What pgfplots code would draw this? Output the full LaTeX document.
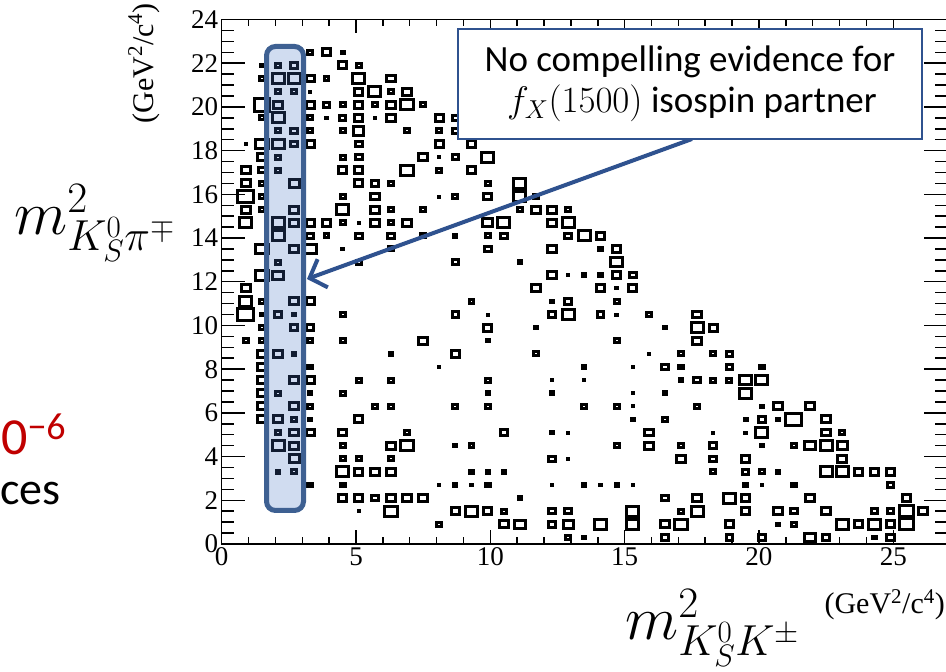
\RequirePackage{fix-cm}
\documentclass[border=0pt]{standalone}
\usepackage{fontspec}
\setmainfont{Liberation Serif}
\newfontfamily\calibri{Carlito}
\usepackage{pgfplots}
\pgfplotsset{compat=1.18}
\usepackage{pgfplotstable}
\usetikzlibrary{arrows.meta}
\definecolor{boxblue}{RGB}{47,82,143}
\definecolor{hlborder}{RGB}{62,96,146}
\definecolor{hlfill}{RGB}{68,114,196}
\definecolor{slidered}{RGB}{192,0,0}
\pgfdeclareplotmark{rbox}{%
  \pgfsetlinewidth{3pt}%
  \pgfpathrectangle{\pgfqpoint{-1.24\pgfplotmarksize}{-\pgfplotmarksize}}{\pgfqpoint{2.48\pgfplotmarksize}{2\pgfplotmarksize}}%
  \pgfusepathqfillstroke}

\pgfplotstableread{
x y c
3.3 22.5 2
3.9 22.5 3
4.5 22.5 1.5
1.5 21.9 1.5
2.1 21.9 2
2.7 21.9 2.5
4.5 21.9 3
5.1 21.9 2
1.5 21.3 2
2.1 21.3 4
2.7 21.3 4
3.3 21.3 3
3.9 21.3 2
5.1 21.3 4
6.3 21.3 3
2.1 20.7 2
2.7 20.7 2
3.3 20.7 1
5.1 20.7 3
5.7 20.7 4
6.3 20.7 2
6.9 20.7 3
1.5 20.1 5
2.1 20.1 3
3.3 20.1 3
3.9 20.1 2.5
4.5 20.1 2
5.1 20.1 3
5.7 20.1 2
6.3 20.1 3
6.9 20.1 4
7.5 20.1 2
1.5 19.5 2
2.1 19.5 4
3.3 19.5 2
3.9 19.5 1
4.5 19.5 2.5
5.1 19.5 3
5.7 19.5 1
6.3 19.5 3
8.1 19.5 3
8.7 19.5 2.5
2.1 18.9 2
2.7 18.9 2.5
3.3 18.9 2
4.5 18.9 2
5.1 18.9 3.5
6.9 18.9 2
8.1 18.9 2
8.7 18.9 2.5
0.9 18.3 1
1.5 18.3 4
2.1 18.3 4
2.7 18.3 2.5
3.3 18.3 3
5.1 18.3 2.5
8.1 18.3 3
9.3 18.3 3
1.5 17.7 3
2.1 17.7 2
4.5 17.7 2
5.1 17.7 2.5
7.5 17.7 3
8.1 17.7 1
8.7 17.7 2.5
9.9 17.7 4
0.9 17.1 3
1.5 17.1 2.5
2.1 17.1 2
4.5 17.1 3
5.1 17.1 3
6.9 17.1 4
8.1 17.1 2
9.3 17.1 3
0.9 16.5 3
1.5 16.5 2
2.7 16.5 3.5
5.1 16.5 3
5.7 16.5 2.5
6.3 16.5 2
9.9 16.5 2
11.1 16.5 4
0.9 15.9 5
1.5 15.9 2
4.5 15.9 2
5.7 15.9 3
8.1 15.9 1
8.7 15.9 2
9.9 15.9 3
11.1 15.9 4
11.7 15.9 2
0.9 15.3 3
1.5 15.3 2
2.7 15.3 3
4.5 15.3 4
5.7 15.3 3
6.3 15.3 2
7.5 15.3 2
11.1 15.3 2
11.7 15.3 3
12.3 15.3 3
12.9 15.3 2
0.9 14.7 4
2.1 14.7 4
2.7 14.7 3
3.3 14.7 3
3.9 14.7 3
4.5 14.7 2
5.1 14.7 1
5.7 14.7 3
6.3 14.7 2
6.9 14.7 3
9.9 14.7 3.5
10.5 14.7 4
12.3 14.7 3
12.9 14.7 4
2.1 14.1 4
3.3 14.1 2.5
3.9 14.1 2
5.1 14.1 2.5
6.3 14.1 2.5
7.5 14.1 2
8.7 14.1 1.5
9.9 14.1 2
10.5 14.1 2.5
12.9 14.1 2.5
13.5 14.1 4
14.1 14.1 3
1.5 13.5 4
2.7 13.5 3
3.3 13.5 4
4.5 13.5 1
6.3 13.5 2
9.9 13.5 2.5
12.3 13.5 3
14.1 13.5 1.5
14.7 13.5 3
2.1 12.9 2
5.1 12.9 2
8.7 12.9 2.5
11.1 12.9 1.5
14.7 12.9 4
1.5 12.3 4
2.1 12.3 3.5
12.3 12.3 3
12.9 12.3 1
13.5 12.3 1.5
14.1 12.3 1.5
14.7 12.3 3
15.3 12.3 2.5
0.9 11.7 3
11.7 11.7 3
14.1 11.7 3
14.7 11.7 1
15.3 11.7 3
0.9 11.1 4
1.5 11.1 2
2.7 11.1 3
3.3 11.1 3
9.3 11.1 2
12.3 11.1 1.5
12.9 11.1 2.5
14.7 11.1 2
0.9 10.5 5
1.5 10.5 1.5
2.1 10.5 2.5
2.7 10.5 1.5
4.5 10.5 2
8.7 10.5 2.5
9.9 10.5 1
12.3 10.5 2.5
12.9 10.5 4
14.1 10.5 2.5
14.7 10.5 1
15.9 10.5 2
17.7 10.5 3
1.5 9.9 2
2.7 9.9 2.5
3.3 9.9 2.5
9.9 9.9 3
11.7 9.9 1.5
16.5 9.9 1.5
17.7 9.9 4
18.3 9.9 3
0.9 9.3 2
1.5 9.3 2
3.3 9.3 2
4.5 9.3 2
7.5 9.3 3
9.9 9.3 1.5
14.7 9.3 2
17.7 9.3 3
1.5 8.7 3
2.1 8.7 3
2.7 8.7 1.5
6.3 8.7 1.5
8.7 8.7 3
11.7 8.7 2
15.9 8.7 1
17.1 8.7 2
18.3 8.7 2
18.9 8.7 2.5
1.5 8.1 3
3.3 8.1 2
8.1 8.1 1
13.5 8.1 1.5
15.3 8.1 1
16.5 8.1 2.5
17.1 8.1 2
18.9 8.1 2.5
20.1 8.1 2
1.5 7.5 3
2.7 7.5 3
3.3 7.5 3
5.1 7.5 2
6.3 7.5 2
9.9 7.5 2
12.3 7.5 1
13.5 7.5 1
17.1 7.5 1.5
17.7 7.5 2.5
18.3 7.5 2
18.9 7.5 2
19.5 7.5 4
20.1 7.5 4
1.5 6.9 3
2.1 6.9 2
3.3 6.9 1.5
4.5 6.9 2
9.9 6.9 1.5
12.3 6.9 1.5
15.3 6.9 1
16.5 6.9 1.5
19.5 6.9 4
1.5 6.3 3
2.7 6.3 3
3.3 6.3 2
5.7 6.3 2
6.3 6.3 2
8.7 6.3 2
9.9 6.3 2
13.5 6.3 2
14.7 6.3 2
15.3 6.3 1
17.7 6.3 2
20.1 6.3 1.5
20.7 6.3 3
21.9 6.3 3
1.5 5.7 3
2.1 5.7 3
2.7 5.7 2
3.3 5.7 1.5
5.1 5.7 3
15.3 5.7 1.5
16.5 5.7 2
19.5 5.7 1.5
20.1 5.7 2.5
20.7 5.7 1.5
21.3 5.7 5
22.5 5.7 3
2.1 5.1 2
2.7 5.1 3
3.3 5.1 3
4.5 5.1 3
6.9 5.1 2
10.5 5.1 2.5
12.3 5.1 1.5
12.9 5.1 1
15.9 5.1 3
18.3 5.1 1
19.5 5.1 1
20.1 5.1 4
22.5 5.1 3
23.1 5.1 2
2.1 4.5 4
2.7 4.5 3
4.5 4.5 2
6.3 4.5 3
6.9 4.5 4
8.7 4.5 1.5
9.3 4.5 2
14.7 4.5 2
15.9 4.5 3
17.1 4.5 2
18.3 4.5 2.5
20.1 4.5 1.5
21.3 4.5 2
21.9 4.5 3.5
22.5 4.5 4
23.1 4.5 3.5
2.7 3.9 3.5
4.5 3.9 2
5.1 3.9 2
6.3 3.9 2
12.3 3.9 2.5
12.9 3.9 1
17.1 3.9 3
18.3 3.9 2.5
19.5 3.9 3
23.1 3.9 3
2.1 3.3 1.5
2.7 3.3 2
4.5 3.3 4
5.1 3.3 3
5.7 3.3 3
6.3 3.3 3
9.3 3.3 1.5
9.9 3.3 1.5
10.5 3.3 1.5
18.3 3.3 2
19.5 3.3 2.5
20.1 3.3 2
20.7 3.3 1.5
22.5 3.3 4
23.1 3.3 4
23.7 3.3 3
24.3 3.3 3
24.9 3.3 3
3.3 2.7 2
4.5 2.7 2
8.1 2.7 1
8.7 2.7 1.5
9.3 2.7 1
9.9 2.7 2
12.3 2.7 1
13.5 2.7 1.5
14.1 2.7 1
14.7 2.7 1.5
15.3 2.7 1
19.5 2.7 2
20.1 2.7 1
21.3 2.7 2
24.9 2.7 2.5
4.5 2.1 3
5.1 2.1 3
5.7 2.1 2.5
6.3 2.1 3
6.9 2.1 3
7.5 2.1 3
11.1 2.1 1.5
16.5 2.1 2.5
17.7 2.1 3
18.9 2.1 4
19.5 2.1 3
21.9 2.1 3
25.5 2.1 3
5.1 1.5 1
6.3 1.5 4
8.7 1.5 3
9.3 1.5 4
9.9 1.5 3
10.5 1.5 2
12.3 1.5 2.5
12.9 1.5 2.5
15.3 1.5 4
17.1 1.5 2
17.7 1.5 4
19.5 1.5 3
20.7 1.5 3
21.3 1.5 2.5
22.5 1.5 3
24.3 1.5 2.5
24.9 1.5 2.5
25.5 1.5 4.5
26.1 1.5 3
8.1 0.9 2
10.5 0.9 3
11.1 0.9 3.5
12.3 0.9 2.5
12.9 0.9 3.5
14.1 0.9 4
15.3 0.9 4
16.5 0.9 3
17.1 0.9 4
18.9 0.9 3
20.7 0.9 1.5
21.3 0.9 2
23.1 0.9 4
23.7 0.9 3
24.3 0.9 4
24.9 0.9 3
25.5 0.9 4.5
12.9 0.3 2
13.5 0.3 1.5
16.5 0.3 2.5
18.9 0.3 2.5
20.1 0.3 2.5
21.9 0.3 3.5
22.5 0.3 2.5
24.3 0.3 1.5
24.9 0.3 3
}\boxdata

\begin{document}
\begin{tikzpicture}[x=1pt,y=1pt]
\path[use as bounding box] (0,0) rectangle (946,672);
\begin{axis}[
  at={(221.7pt,128pt)}, anchor=south west,
  scale only axis, width=725.3pt, height=524.5pt,
  xmin=0, xmax=27, ymin=0, ymax=24,
  xtick={0,5,10,15,20,25}, minor x tick num=4,
  ytick=\empty,
  tick align=inside,
  major tick length=14pt, minor tick length=7pt,
  axis line style={line width=1.5pt},
  tick style={black, line width=1.5pt},
  ticklabel style={font=\fontsize{27}{27}\selectfont},
  /pgf/number format/assume math mode=true,
]
\addplot[scatter, only marks, mark=rbox,
  scatter/use mapped color={draw=black, fill=white},
  visualization depends on={0.5+1.47*(\thisrow{c}-1) \as \ms},
  scatter/@pre marker code/.append style={/tikz/mark size=\ms, /tikz/line width=3pt}]
  table[x=x, y=y] {\boxdata};
\end{axis}
\begin{axis}[
  at={(221.7pt,128pt)}, anchor=south west,
  scale only axis, width=725.3pt, height=524.5pt,
  xmin=0, xmax=27, ymin=0, ymax=24,
  xtick=\empty,
  ytick={0,2,...,24}, minor y tick num=3,
  tick align=inside,
  major tick length=23pt, minor tick length=12pt,
  axis line style={line width=1.5pt},
  tick style={black, line width=1.5pt},
  ticklabel style={font=\fontsize{27}{27}\selectfont},
  /pgf/number format/assume math mode=true,
]
\end{axis}
% highlighted band
\draw[hlborder, line width=5pt, rounded corners=9pt, fill=hlfill, fill opacity=0.25, draw opacity=1]
  (266.5,161.5) rectangle (303.5,625.5);
% arrow
\draw[boxblue, line width=4pt, -{Straight Barb[length=14pt, width=30pt]}] (692,533) -- (307,393);
% text box
\draw[boxblue, line width=2.5pt, fill=white] (458,533) rectangle (922,643);
\node[anchor=base, inner sep=0, font=\calibri\fontsize{37}{37}\selectfont] at (690,600) {No compelling evidence for};
\node[anchor=base, inner sep=0, font=\calibri\fontsize{37}{37}\selectfont] at (692,559) {$f_X(1500)$ isospin partner};
% axis unit labels
\node[rotate=90, anchor=base east, inner sep=0, font=\fontsize{30}{30}\selectfont] at (153,669) {(GeV\textsuperscript{2}/c\textsuperscript{4})};
\node[anchor=base east, inner sep=0, font=\fontsize{30}{30}\selectfont] at (945,58) {(GeV\textsuperscript{2}/c\textsuperscript{4})};
% big axis labels
\node[anchor=base west, inner sep=0, font=\fontsize{62}{62}\selectfont] at (14,437) {$m^2_{K_S^0\pi^\mp}$};
\node[anchor=base west, inner sep=0, font=\fontsize{62}{62}\selectfont] at (625,32) {$m^2_{K_S^0K^\pm}$};
% slide fragments
\node[anchor=base west, inner sep=0, text=slidered, font=\calibri\fontsize{52}{52}\selectfont] at (1,217) {0\raisebox{15pt}{\fontsize{38}{38}\selectfont\char"2212 6}};
\node[anchor=base west, inner sep=0, font=\calibri\fontsize{46}{46}\selectfont] at (0,167) {ces};
\end{tikzpicture}
\end{document}
